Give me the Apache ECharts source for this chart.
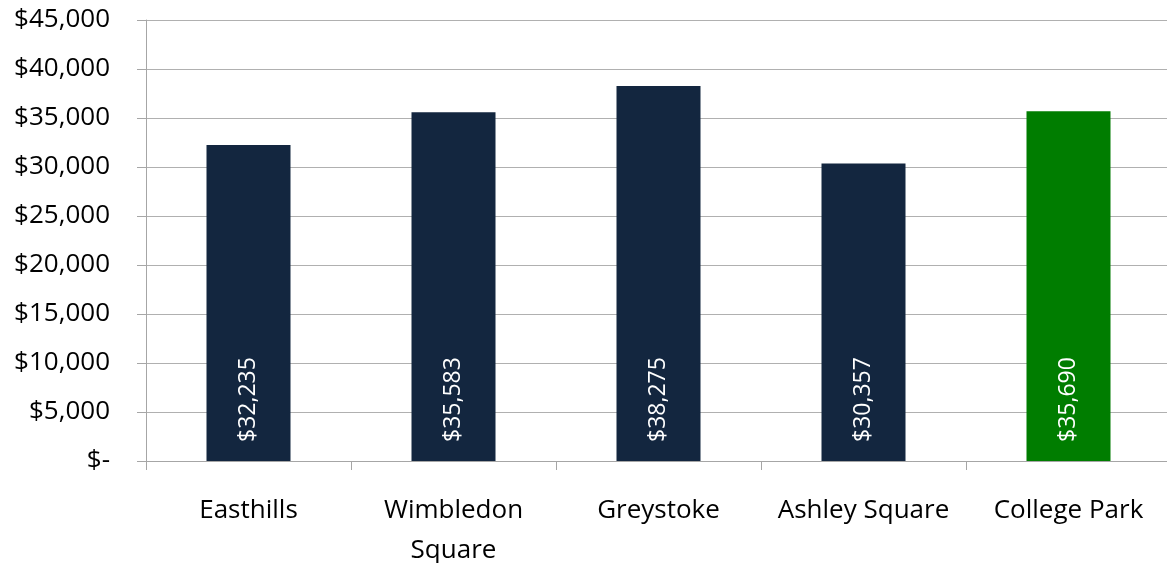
<!DOCTYPE html>
<html>
<head>
<meta charset="utf-8">
<script src="https://cdn.jsdelivr.net/npm/echarts@6/dist/echarts.min.js"></script>
<style>html,body{margin:0;padding:0;background:#fff}#c{width:1167px;height:563px}</style>
</head>
<body>
<div id="c"></div>
<script>
var categories = ["Easthills", "Wimbledon\nSquare", "Greystoke", "Ashley Square", "College Park"];
var values = [32235, 35583, 38275, 30357, 35690];
var barColors = ["#13263F", "#13263F", "#13263F", "#13263F", "#007D00"];
var yTicks = { min: 0, max: 45000, interval: 5000 };

function money(v) {
  if (v === 0) return "$-";
  return "$" + String(v).replace(/\B(?=(\d{3})+(?!\d))/g, ",");
}

var chart = echarts.init(document.getElementById('c'));
chart.setOption({
  animation: false,
  grid: { left: 146, right: -4, top: 20, bottom: 102, containLabel: false, outerBoundsMode: 'none' },
  xAxis: {
    type: 'category',
    data: categories,
    axisLine: { show: true, lineStyle: { color: '#A6A6A6', width: 1 } },
    axisTick: { show: true, length: 9, alignWithLabel: false, lineStyle: { color: '#A6A6A6' } },
    axisLabel: { color: '#000', fontFamily: 'Open Sans', fontSize: 26, margin: 30, lineHeight: 40, interval: 0 }
  },
  yAxis: {
    type: 'value',
    min: yTicks.min, max: yTicks.max, interval: yTicks.interval,
    axisLine: { show: true, lineStyle: { color: '#A6A6A6', width: 1 } },
    axisTick: { show: true, length: 9, lineStyle: { color: '#A6A6A6' } },
    splitLine: { show: true, lineStyle: { color: '#B0B0B0', width: 1 } },
    axisLabel: { color: '#000', fontFamily: 'Open Sans', fontSize: 26, margin: 36, padding: [8, 0, 0, 0], formatter: money }
  },
  series: [{
    type: 'bar',
    barWidth: 84,
    data: values.map(function (v, i) { return { value: v, itemStyle: { color: barColors[i] } }; }),
    label: {
      show: true,
      position: 'insideBottom',
      rotate: 90,
      align: 'left',
      verticalAlign: 'middle',
      distance: 19,
      color: '#fff',
      fontFamily: 'Open Sans',
      fontSize: 23,
      formatter: function (p) { return money(p.value); }
    }
  }]
});
</script>
</body>
</html>
